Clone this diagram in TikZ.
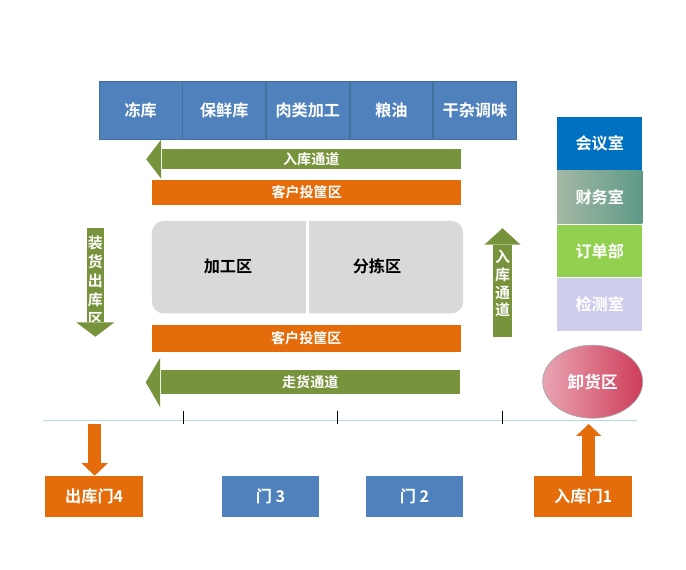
\documentclass[tikz,border=0pt]{standalone}
\usepackage{fontspec}
\setmainfont{Noto Sans CJK SC}[BoldFont=* Bold]
\usetikzlibrary{positioning, shapes.geometric, arrows.meta}

\definecolor{cellblue}{HTML}{4F81BD}
\definecolor{celledge}{HTML}{41719C}
\definecolor{lanegreen}{HTML}{77933C}
\definecolor{binorange}{HTML}{E46C0A}
\definecolor{panelgray}{HTML}{D9D9D9}
\definecolor{meetblue}{HTML}{0070C0}
\definecolor{financeL}{HTML}{A3B8A4}
\definecolor{financeR}{HTML}{5E9A87}
\definecolor{ordergreen}{HTML}{92D050}
\definecolor{checklav}{HTML}{CECDEC}
\definecolor{unloadL}{HTML}{E8A5B2}
\definecolor{unloadR}{HTML}{CE3C5A}
\definecolor{floorline}{HTML}{B4DDE6}

\begin{document}
\begin{tikzpicture}[x=0.02cm, y=-0.02cm,
    font=\bfseries\fontsize{9.2}{11}\selectfont,
    cell/.style={draw=celledge, line width=0.5pt, fill=cellblue, text=white, minimum width=1.654cm, minimum height=1.147cm, inner sep=0pt},
    lane/.style={fill=lanegreen, text=white, inner sep=0pt, font=\bfseries\fontsize{8}{10}\selectfont},
    bin/.style={fill=binorange, text=white, inner sep=0pt, font=\bfseries\fontsize{8}{10}\selectfont},
    room/.style={text=white, minimum width=1.7cm, minimum height=1.058cm, inner sep=0pt},
    door/.style={text=white, minimum width=1.96cm, minimum height=0.826cm, inner sep=0pt},
    vtext/.style={text=white, align=center, inner sep=0pt}]

    \useasboundingbox (0,0) rectangle (686,570);

    % Nodes
    \node (cold) [cell] at (140.7,110.3) {冻库};
    \node (fresh) [cell, right=0pt of cold] {保鲜库};
    \node (meat) [cell, right=0pt of fresh] {肉类加工};
    \node (grain) [cell, right=0pt of meat] {粮油};
    \node (dry) [cell, right=0pt of grain] {干杂调味};

    \node (inlane) [lane, minimum width=5.99cm, minimum height=0.41cm] at (311.3,159.2) {入库通道};
    \node (bintop) [bin, minimum width=6.17cm, minimum height=0.5cm] at (306.7,192.5) {客户投筐区};

    \node (panel) [fill=panelgray, rounded corners=0.24cm, minimum width=6.23cm, minimum height=1.85cm] at (307.5,267.2) {};
    \draw[white, line width=1.7pt] (panel.north) -- (panel.south);
    \node (process) at (228,266) {加工区};
    \node (sort) at (377,266) {分拣区};

    \node (binlow) [bin, minimum width=6.19cm, minimum height=0.53cm] at (306.3,338.3) {客户投筐区};
    \node (walklane) [lane, minimum width=5.99cm, minimum height=0.49cm] at (310.3,382.2) {走货通道};

    \node (loadbody) [fill=lanegreen, minimum width=0.35cm, minimum height=1.87cm, inner sep=0pt] at (95.3,275.2) {};
    \node (loadtext) [vtext, font=\bfseries\fontsize{8.5}{10.8}\selectfont] at (95.3,280.5) {装\\货\\出\\库\\区};
    \node (upbody) [fill=lanegreen, minimum width=0.37cm, minimum height=1.83cm, inner sep=0pt] at (502.5,290.8) {};
    \node (uptext) [vtext, font=\bfseries\fontsize{8.5}{10.2}\selectfont] at (502.5,283.5) {入\\库\\通\\道};

    \node (meeting) [room, fill=meetblue] at (599.8,143.8) {会议室};
    \node (finance) [room, left color=financeL, right color=financeR, below=0pt of meeting] {财务室};
    \node (order) [room, fill=ordergreen, below=0pt of finance] {订单部};
    \node (check) [room, fill=checklav, below=0pt of order] {检测室};

    \node (unload) [ellipse, draw=gray!70, left color=unloadL, right color=unloadR, text=white, minimum width=2cm, minimum height=1.46cm, font=\bfseries\fontsize{9.5}{11}\selectfont] at (592.7,381.7) {卸货区};

    \node (door4) [door, fill=binorange] at (94.2,496.7) {出库门4};
    \node (door3) [door, fill=cellblue] at (270.5,496.7) {门 3};
    \node (door2) [door, fill=cellblue] at (414.5,496.7) {门 2};
    \node (door1) [door, fill=binorange] at (583.2,496.7) {入库门1};

    % Arrow heads
    \fill[lanegreen] (inlane.north west) -- ++(0,-9) -- ([xshift=-0.3cm]inlane.west) -- ([yshift=-0.18cm]inlane.south west) -- (inlane.south west) -- cycle;
    \fill[lanegreen] (walklane.north west) -- ++(0,-12) -- ([xshift=-0.29cm]walklane.west) -- ([yshift=-0.25cm]walklane.south west) -- (walklane.south west) -- cycle;
    \fill[lanegreen] ([xshift=-0.2cm]loadbody.south west) -- ([xshift=0.2cm]loadbody.south east) -- ([yshift=-0.29cm]loadbody.south) -- cycle;
    \fill[lanegreen] ([xshift=-0.17cm]upbody.north west) -- ([xshift=0.17cm]upbody.north east) -- ([yshift=0.33cm]upbody.north) -- cycle;

    % Floor line
    \coordinate (lineL) at (42.7,420.7);
    \coordinate (lineR) at (636.7,420.7);
    \draw[floorline, line width=0.8pt] (lineL) -- (lineR);
    \foreach \tx in {183.3,337.3,502.3}
        \draw[line width=0.6pt] (\tx,410.7) -- (\tx,424);

    % Door arrows
    \coordinate (outstart) at (94.7,424);
    \coordinate (inend) at (588.7,424);
    \draw[binorange, line width=0.254cm, -{Triangle[width=0.51cm, length=0.25cm]}] (outstart) -- (outstart |- door4.north);
    \draw[binorange, line width=0.254cm, -{Triangle[width=0.49cm, length=0.24cm]}] (inend |- door1.north) -- (inend);

\end{tikzpicture}
\end{document}
